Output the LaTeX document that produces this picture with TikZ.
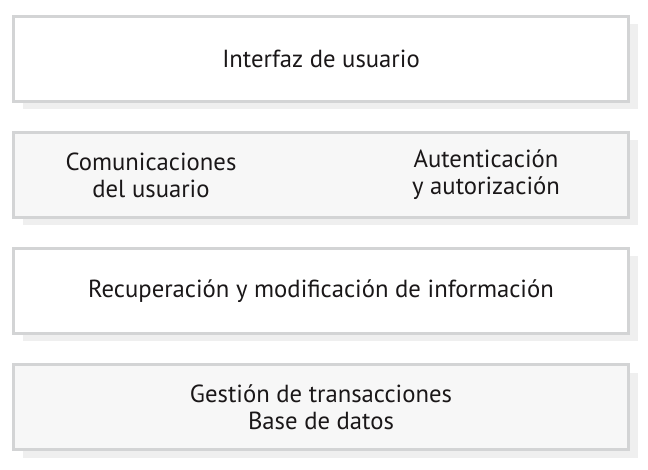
\documentclass[tikz,border=0pt]{standalone}
\usepackage{fontspec}
\setmainfont{PT Sans}
\usetikzlibrary{shadows}

\definecolor{layerline}{HTML}{D3D4D5}
\definecolor{layershade}{HTML}{EFEFEF}
\definecolor{layergray}{HTML}{F7F7F7}
\definecolor{layertext}{HTML}{1A1718}

\begin{document}
\begin{tikzpicture}[x=1pt, y=1pt,
    every node/.style={text=layertext, font=\fontsize{24.7}{27}\selectfont},
    layer/.style={draw=layerline, line width=3pt, minimum width=615pt,
        minimum height=85pt, inner sep=0pt, align=center,
        drop shadow={shadow xshift=9pt, shadow yshift=-8pt,
            fill=layershade, opacity=1}},
    label/.style={align=center}]
    \useasboundingbox (0,0) rectangle (648,-470);

    % Layers
    \node[layer, fill=white] (ui) at (321,-59) {Interfaz de usuario};
    \node[layer, fill=layergray] (auth) at (321,-175) {};
    \node[layer, fill=white] (info) at (321,-291)
        {Recuperación y modificación de información};
    \node[layer, fill=layergray] (db) at (321,-407)
        {Gestión de transacciones\\Base de datos};

    % Second layer texts
    \node[label] (comm) at (151,-175) {Comunicaciones\\del usuario};
    \node[label] (authz) at (486,-175) {Autenticación\\y autorización};
\end{tikzpicture}
\end{document}
